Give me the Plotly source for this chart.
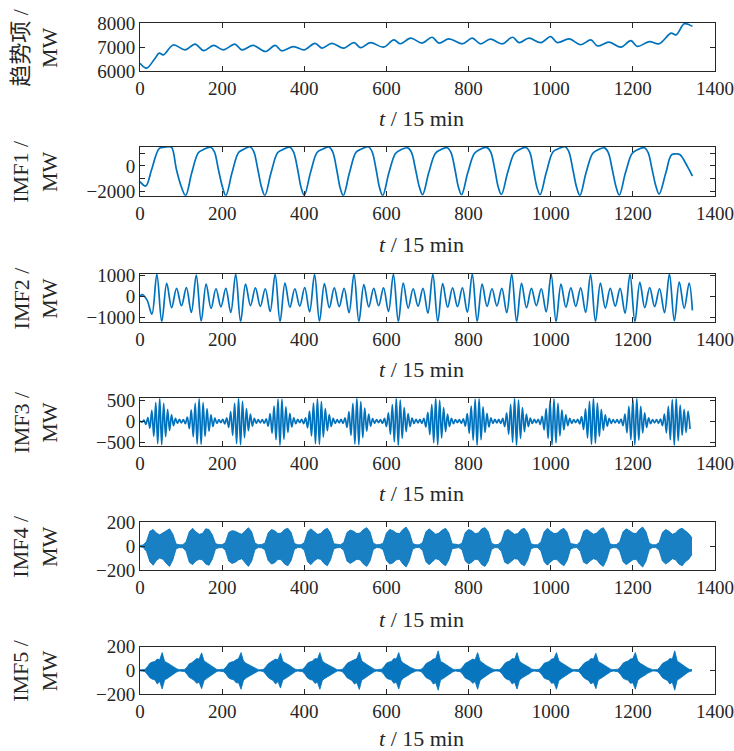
import numpy as np
import plotly.graph_objects as go

# ---------------- data ----------------
# trend component (t in 15-min steps, MW)
trend_t = [0, 16, 35, 47, 57, 81, 110, 134, 155, 179, 203, 231, 248, 276, 305, 329, 345, 374, 400, 426,
           443, 467, 496, 521, 537, 561, 593, 618, 634, 659, 687, 711, 728, 752, 785, 809, 829, 853, 882,
           907, 923, 947, 976, 1000, 1016, 1045, 1073, 1098, 1114, 1142, 1171, 1195, 1211, 1240, 1264,
           1293, 1305, 1325, 1337, 1345]
trend_v = [6330, 6130, 6500, 6750, 6680, 7090, 6890, 7125, 6860, 7070, 6890, 7125, 6890, 7070, 6820, 7070,
           6850, 7025, 6890, 7160, 6960, 7160, 6960, 7190, 6980, 7190, 7000, 7300, 7140, 7370, 7170, 7410,
           7170, 7340, 7140, 7370, 7140, 7330, 7140, 7410, 7190, 7370, 7190, 7440, 7190, 7340, 7100, 7300,
           7050, 7210, 7000, 7270, 7030, 7230, 7140, 7580, 7510, 7970, 7930, 7860]

# IMF1 key points
imf1_t = [0, 14, 28, 47, 60, 69, 77, 89, 100, 111,
          126, 142, 154, 172, 181, 191, 201, 209,
          224, 240, 252, 268, 277, 287, 296, 304,
          319, 335, 347, 365, 374, 384, 392, 400,
          415, 431, 443, 460, 469, 479, 487, 495,
          510, 526, 538, 556, 565, 575, 583, 591,
          606, 622, 634, 652, 661, 671, 680, 688,
          703, 719, 731, 748, 757, 767, 775, 783,
          798, 814, 826, 845, 854, 864, 872, 880,
          895, 911, 923, 940, 949, 958, 966, 974,
          989, 1005, 1017, 1035, 1044, 1054, 1063, 1071,
          1086, 1102, 1114, 1131, 1140, 1150, 1159, 1167,
          1182, 1198, 1210, 1228, 1237, 1247, 1256, 1264,
          1280, 1294, 1306, 1315, 1333, 1345]
imf1_v = [-1250, -1600, -320, 1413, 1500, 1544, 1480, -320, -1600, -2360,
          -550, 1050, 1300, 1500, 1150, -300, -1700, -2360,
          -550, 1080, 1320, 1540, 1150, -300, -1700, -2360,
          -550, 1050, 1300, 1500, 1100, -300, -1700, -2340,
          -550, 1080, 1320, 1520, 1150, -300, -1700, -2360,
          -550, 1100, 1330, 1540, 1150, -300, -1700, -2360,
          -550, 1000, 1280, 1450, 1080, -300, -1650, -2300,
          -550, 1000, 1280, 1460, 1080, -300, -1650, -2300,
          -550, 1000, 1300, 1470, 1100, -300, -1650, -2280,
          -550, 1000, 1300, 1480, 1100, -300, -1650, -2300,
          -550, 1100, 1350, 1544, 1150, -300, -1700, -2360,
          -550, 1000, 1280, 1450, 1080, -300, -1650, -2330,
          -550, 1000, 1280, 1460, 1080, -300, -1600, -2250,
          -590, 880, 960, 900, -50, -800]

# IMF2 extrema, one every 12 samples starting at t = 5
imf2_head = [100, -150, -830]
imf2_days = [
    [1070, -1190, 640, -520, 400, -430, 430, -750],
    [1030, -1160, 600, -560, 380, -480, 400, -750],
    [1070, -1190, 600, -420, 420, -460, 380, -700],
    [1075, -1190, 650, -500, 380, -450, 430, -720],
    [1060, -1170, 620, -520, 420, -470, 400, -760],
    [1080, -1190, 580, -480, 400, -430, 420, -700],
    [1070, -1190, 650, -540, 380, -450, 400, -780],
    [1075, -1190, 620, -500, 420, -470, 420, -740],
    [1080, -1180, 600, -460, 380, -440, 400, -760],
    [1075, -1190, 640, -520, 400, -420, 380, -720],
    [1070, -1190, 600, -500, 420, -460, 420, -750],
    [1060, -1180, 650, -540, 400, -450, 400, -780],
    [1075, -1190, 680, -520, 430, -470, 380, -760],
]
imf2_tail = [1080, -1150, 700, -550, 650]
imf2_end = -650

# IMF3 extrema, 20 per day (one every 4.8 samples)
imf3_days = [
    [10, -20, 30, -70, 90, -160, 260, -350, 440, -520, 540, -550, 420, -360, 280, -210, 150, -100, 70, -45],
    [45, -35, 40, -55, 100, -170, 270, -360, 420, -530, 535, -540, 440, -350, 300, -230, 150, -120, 75, -50],
    [40, -30, 50, -60, 80, -140, 230, -330, 420, -520, 540, -550, 470, -380, 300, -220, 170, -110, 70, -45],
    [40, -35, 40, -45, 60, -110, 180, -280, 360, -430, 520, -560, 520, -420, 340, -260, 190, -130, 80, -55],
    [45, -30, 50, -55, 85, -150, 240, -340, 430, -520, 530, -540, 460, -370, 300, -220, 160, -120, 70, -50],
    [40, -35, 45, -50, 80, -140, 230, -330, 420, -530, 550, -550, 460, -380, 310, -230, 170, -110, 65, -45],
    [40, -30, 40, -50, 70, -120, 200, -300, 390, -480, 540, -560, 500, -400, 320, -240, 180, -120, 75, -50],
    [45, -35, 45, -50, 70, -130, 210, -310, 400, -500, 545, -555, 490, -390, 320, -240, 170, -120, 70, -55],
    [40, -30, 40, -45, 60, -110, 180, -280, 360, -440, 520, -560, 530, -430, 340, -260, 190, -130, 80, -50],
    [45, -35, 45, -50, 70, -120, 200, -300, 400, -490, 540, -560, 500, -400, 320, -240, 170, -120, 75, -50],
    [45, -35, 50, -70, 120, -200, 300, -400, 480, -550, 530, -500, 420, -340, 270, -200, 150, -100, 70, -50],
    [40, -30, 45, -60, 110, -190, 290, -390, 470, -540, 540, -510, 430, -350, 280, -210, 150, -110, 70, -50],
    [40, -35, 40, -45, 55, -100, 170, -270, 350, -430, 510, -550, 540, -440, 350, -270, 200, -140, 80, -55],
    [40, -35, 40, -45, 55, -100, 170, -270, 350, -430, 510, -560, 540, -450, 380, -320, 280, -260, 240, -180],
]

# IMF4 upper / lower envelope, 12 per day (one every 8 samples)
imf4_up_days = [
    [6, 10, 40, 125, 140, 110, 95, 110, 130, 145, 100, 18],
    [12, 12, 35, 120, 150, 120, 100, 105, 145, 140, 95, 20],
    [14, 12, 30, 115, 130, 125, 110, 100, 130, 155, 120, 25],
    [12, 14, 25, 110, 140, 130, 105, 110, 140, 150, 115, 22],
    [12, 12, 30, 120, 145, 120, 100, 105, 135, 150, 110, 20],
    [14, 12, 30, 115, 135, 125, 105, 110, 140, 155, 120, 25],
    [12, 14, 25, 110, 140, 130, 110, 105, 140, 160, 115, 22],
    [12, 12, 30, 120, 145, 125, 100, 110, 135, 150, 110, 20],
    [14, 12, 25, 115, 140, 130, 105, 110, 145, 155, 120, 25],
    [12, 14, 40, 125, 140, 120, 100, 105, 140, 150, 110, 20],
    [12, 12, 35, 120, 150, 125, 105, 110, 135, 150, 115, 22],
    [14, 12, 40, 125, 140, 120, 100, 110, 140, 155, 110, 20],
    [12, 14, 35, 120, 145, 130, 110, 105, 140, 160, 120, 25],
    [12, 12, 30, 115, 140, 125, 100, 110, 140, 150, 125, 105],
]
imf4_lo_days = [
    [-6, -12, -45, -130, -160, -120, -100, -110, -145, -170, -115, -22],
    [-12, -14, -40, -135, -155, -125, -110, -115, -150, -160, -110, -22],
    [-14, -12, -35, -125, -145, -135, -115, -105, -140, -170, -125, -28],
    [-12, -14, -30, -120, -150, -140, -110, -115, -150, -165, -120, -25],
    [-12, -12, -35, -130, -155, -125, -105, -110, -145, -165, -115, -22],
    [-14, -12, -35, -125, -145, -130, -110, -115, -150, -170, -125, -28],
    [-12, -14, -30, -120, -150, -140, -115, -110, -150, -175, -120, -25],
    [-12, -12, -35, -130, -155, -130, -105, -115, -145, -165, -115, -22],
    [-14, -12, -30, -125, -150, -135, -110, -115, -155, -170, -125, -28],
    [-12, -14, -45, -135, -150, -125, -105, -110, -150, -165, -115, -22],
    [-12, -12, -40, -130, -160, -130, -110, -115, -145, -165, -120, -25],
    [-14, -12, -45, -135, -150, -125, -105, -115, -150, -170, -115, -22],
    [-12, -14, -40, -130, -155, -135, -115, -110, -150, -175, -125, -28],
    [-12, -12, -35, -125, -150, -130, -105, -115, -150, -165, -130, -110],
]
imf4_end = [70, -70]

# IMF5 upper / lower envelope, 16 per day (one every 6 samples)
imf5_up_days = [
    [4, 5, 8, 30, 60, 70, 75, 95, 90, 150, 75, 65, 50, 38, 25, 12],
    [6, 6, 8, 25, 55, 65, 80, 100, 95, 148, 80, 65, 50, 35, 22, 10],
    [6, 6, 10, 30, 60, 70, 75, 90, 100, 150, 80, 60, 48, 35, 25, 12],
    [6, 6, 8, 28, 55, 70, 80, 95, 90, 145, 75, 65, 50, 38, 22, 10],
    [6, 6, 10, 30, 60, 72, 78, 100, 95, 150, 80, 62, 50, 35, 25, 12],
    [6, 6, 8, 28, 58, 70, 80, 95, 100, 155, 78, 65, 48, 36, 24, 10],
    [6, 6, 10, 30, 60, 70, 75, 100, 95, 150, 80, 60, 50, 35, 22, 12],
    [6, 6, 8, 25, 55, 68, 78, 95, 100, 165, 75, 65, 50, 38, 25, 10],
    [6, 6, 10, 30, 60, 70, 80, 95, 90, 150, 80, 62, 48, 35, 22, 12],
    [6, 6, 8, 28, 58, 72, 78, 100, 95, 150, 78, 60, 50, 36, 25, 10],
    [6, 6, 10, 30, 60, 70, 75, 95, 100, 150, 80, 65, 50, 35, 22, 12],
    [6, 6, 8, 28, 55, 70, 80, 100, 95, 145, 75, 62, 48, 38, 25, 10],
    [6, 6, 10, 30, 60, 72, 78, 95, 100, 150, 80, 60, 50, 35, 22, 12],
    [6, 6, 8, 28, 58, 70, 80, 100, 95, 165, 78, 65, 48, 36, 20, 8],
]
imf5_lo_days = [
    [-4, -5, -10, -35, -62, -75, -80, -115, -95, -158, -80, -70, -55, -42, -28, -12],
    [-6, -6, -10, -30, -60, -72, -85, -110, -100, -155, -85, -70, -55, -40, -25, -12],
    [-6, -6, -12, -35, -65, -75, -80, -105, -105, -160, -85, -65, -52, -40, -28, -14],
    [-6, -6, -10, -32, -60, -75, -85, -115, -95, -150, -80, -70, -55, -42, -25, -12],
    [-6, -6, -12, -35, -65, -78, -82, -110, -100, -160, -85, -68, -55, -40, -28, -14],
    [-6, -6, -10, -32, -62, -75, -85, -115, -105, -162, -82, -70, -52, -40, -26, -12],
    [-6, -6, -12, -35, -65, -75, -80, -110, -100, -158, -85, -65, -55, -40, -25, -14],
    [-6, -6, -10, -30, -60, -72, -82, -115, -105, -168, -80, -70, -55, -42, -28, -12],
    [-6, -6, -12, -35, -65, -75, -85, -110, -95, -160, -85, -68, -52, -40, -25, -14],
    [-6, -6, -10, -32, -62, -78, -82, -115, -100, -158, -82, -65, -55, -40, -28, -12],
    [-6, -6, -12, -35, -65, -75, -80, -110, -105, -160, -85, -70, -55, -40, -25, -14],
    [-6, -6, -10, -32, -60, -75, -85, -115, -100, -155, -80, -68, -52, -42, -28, -12],
    [-6, -6, -12, -35, -65, -78, -82, -110, -105, -160, -85, -65, -55, -40, -25, -14],
    [-6, -6, -10, -32, -62, -75, -85, -115, -100, -168, -82, -70, -52, -40, -22, -10],
]
imf5_end = [5, -5]

x_ticks = [0, 200, 400, 600, 800, 1000, 1200, 1400]
y_labels = ["趋势项 /<br>MW", "IMF1 /<br>MW", "IMF2 /<br>MW", "IMF3 /<br>MW", "IMF4 /<br>MW", "IMF5 /<br>MW"]
y_ranges = [[6000, 8000], [-2376, 1544], [-1190, 1081], [-570, 540], [-200, 200], [-200, 200]]
y_tickvals = [[6000, 7000, 8000], [-2000, -1000, 0, 1000], [-1000, 0, 1000], [-500, 0, 500],
              [-200, 0, 200], [-200, 0, 200]]
y_ticktext = [["6000", "7000", "8000"], ["−2000", "", "0", ""], ["−1000", "0", "1000"],
              ["−500", "0", "500"], ["−200", "0", "200"], ["−200", "0", "200"]]
x_title = "<i>t</i> / 15 min"

# ---------------- assemble series ----------------
imf2_v = imf2_head + sum(imf2_days, []) + imf2_tail
imf2_t = [0] + list(5 + 12 * np.arange(len(imf2_v))) + [1345]
imf2_v = [0] + imf2_v + [imf2_end]

imf3_v = sum(imf3_days, [])
imf3_t = np.arange(len(imf3_v)) * 4.8

imf4_up = sum(imf4_up_days, []) + [imf4_end[0]]
imf4_lo = sum(imf4_lo_days, []) + [imf4_end[1]]
imf4_t = np.arange(len(imf4_up)) * 8

imf5_up = sum(imf5_up_days, []) + [imf5_end[0]]
imf5_lo = sum(imf5_lo_days, []) + [imf5_end[1]]
imf5_t = np.arange(len(imf5_up)) * 6

# ---------------- figure ----------------
BLUE = "#0072BD"
INK = "#262626"
FONT = "Liberation Serif, Times New Roman, Noto Sans CJK SC, serif"

fig = go.Figure()


def ax(k):
    return ("x" if k == 1 else f"x{k}"), ("y" if k == 1 else f"y{k}")


def add_line(k, x, y):
    xa, ya = ax(k)
    fig.add_trace(go.Scatter(x=x, y=y, mode="lines", xaxis=xa, yaxis=ya,
                             line=dict(color=BLUE, width=1.7, shape="spline", smoothing=1),
                             showlegend=False, hoverinfo="skip"))


def add_band(k, x, up, lo, fillcolor):
    xa, ya = ax(k)
    fig.add_trace(go.Scatter(x=x, y=up, mode="lines", xaxis=xa, yaxis=ya,
                             line=dict(color=BLUE, width=0.8), showlegend=False, hoverinfo="skip"))
    fig.add_trace(go.Scatter(x=x, y=lo, mode="lines", xaxis=xa, yaxis=ya, fill="tonexty",
                             fillcolor=fillcolor, line=dict(color=BLUE, width=0.8),
                             showlegend=False, hoverinfo="skip"))


add_line(1, trend_t, trend_v)
add_line(2, imf1_t, imf1_v)
add_line(3, imf2_t, imf2_v)
add_line(4, imf3_t, imf3_v)
add_band(5, imf4_t, imf4_up, imf4_lo, "rgba(0,114,189,0.9)")
add_band(6, imf5_t, imf5_up, imf5_lo, "rgba(0,114,189,0.97)")

domains = [(0.928, 1.0), (0.7426, 0.8157), (0.5548, 0.6259), (0.3700, 0.4407), (0.1848, 0.2559), (0.0, 0.0705)]
xtitle_y = [0.8584, 0.6692, 0.4829, 0.2981, 0.1103, -0.0656]

layout = dict(width=734, height=751, margin=dict(l=140, r=19, t=23, b=57, autoexpand=False),
              paper_bgcolor="white", plot_bgcolor="white", showlegend=False,
              font=dict(family=FONT, color=INK))
annotations = []
for i in range(6):
    k = i + 1
    xs = "xaxis" if k == 1 else f"xaxis{k}"
    ys = "yaxis" if k == 1 else f"yaxis{k}"
    xa, ya = ax(k)
    layout[xs] = dict(domain=[0, 1], anchor=ya, range=[0, 1400], tickvals=x_ticks,
                      ticktext=[str(v) for v in x_ticks], ticks="inside", ticklen=5,
                      tickcolor=INK, showline=True, linecolor=INK, linewidth=1, mirror="ticks",
                      showgrid=False, zeroline=False, automargin=False,
                      tickfont=dict(family=FONT, size=19, color=INK))
    layout[ys] = dict(domain=list(domains[i]), anchor=xa, range=y_ranges[i], tickvals=y_tickvals[i],
                      ticktext=y_ticktext[i], ticks="inside", ticklen=5, tickcolor=INK,
                      showline=True, linecolor=INK, linewidth=1, mirror="ticks", showgrid=False,
                      zeroline=False, automargin=False, tickfont=dict(family=FONT, size=19, color=INK))
    annotations.append(dict(text=x_title, xref="paper", yref="paper", x=0.49, y=xtitle_y[i],
                            xanchor="center", yanchor="middle", showarrow=False,
                            font=dict(family=FONT, size=22, color=INK)))
    annotations.append(dict(text=y_labels[i], xref="paper", yref="paper", x=-0.1817,
                            y=(domains[i][0] + domains[i][1]) / 2, xanchor="center", yanchor="middle",
                            textangle=-90, showarrow=False, align="center",
                            font=dict(family=FONT, size=22, color=INK)))
layout["annotations"] = annotations
fig.update_layout(**layout)
fig.write_html("out.html", config={"displayModeBar": False},
               post_script="document.body.style.margin='0';document.body.style.overflow='hidden';")
